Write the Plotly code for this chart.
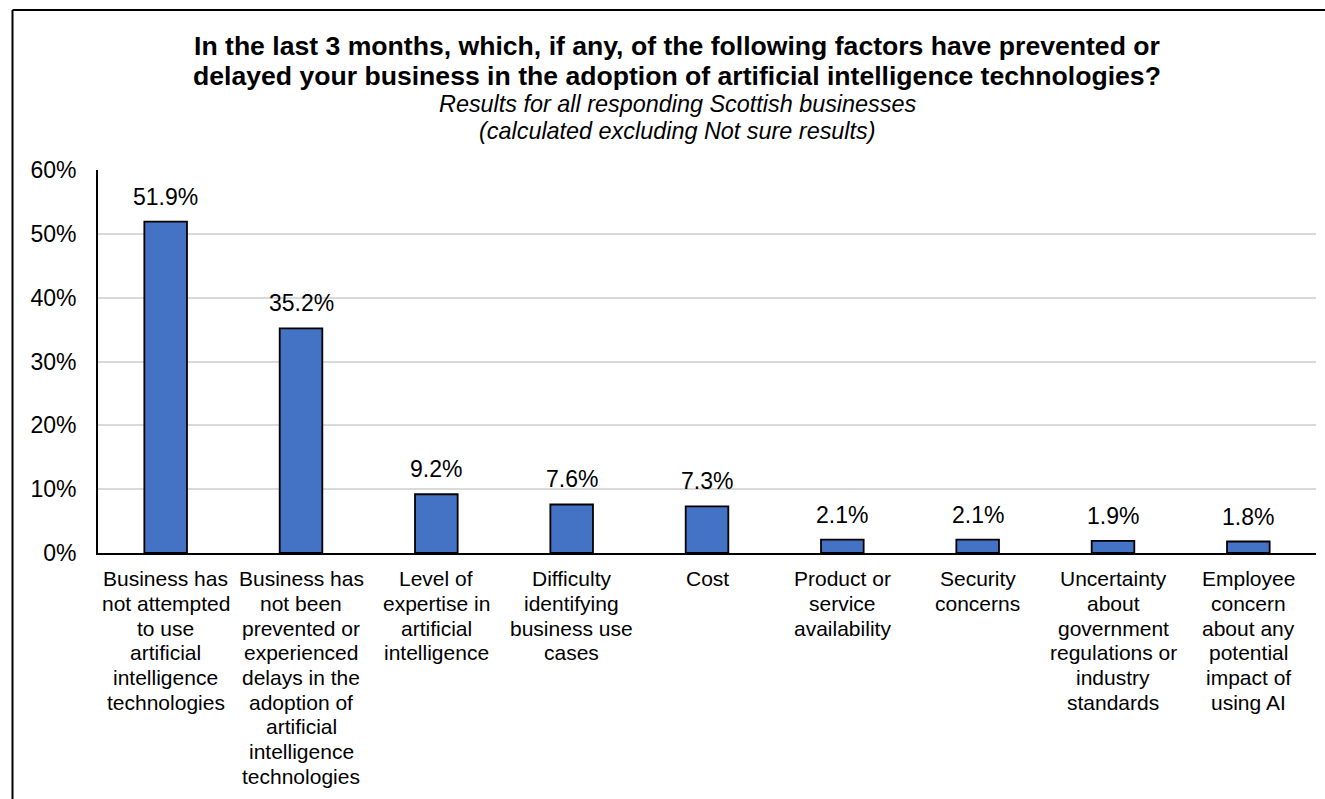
import plotly.graph_objects as go

# Survey results (percent of responding businesses)
categories = [
    "Business has not attempted to use artificial intelligence technologies",
    "Business has not been prevented or experienced delays in the adoption of artificial intelligence technologies",
    "Level of expertise in artificial intelligence",
    "Difficulty identifying business use cases",
    "Cost",
    "Product or service availability",
    "Security concerns",
    "Uncertainty about government regulations or industry standards",
    "Employee concern about any potential impact of using AI",
]
values = [51.9, 35.2, 9.2, 7.6, 7.3, 2.1, 2.1, 1.9, 1.8]

# Wrapped category labels, one list of lines per category
label_lines = [
    ["Business has", "not attempted", "to use", "artificial", "intelligence", "technologies"],
    ["Business has", "not been", "prevented or", "experienced", "delays in the", "adoption of",
     "artificial", "intelligence", "technologies"],
    ["Level of", "expertise in", "artificial", "intelligence"],
    ["Difficulty", "identifying", "business use", "cases"],
    ["Cost"],
    ["Product or", "service", "availability"],
    ["Security", "concerns"],
    ["Uncertainty", "about", "government", "regulations or", "industry", "standards"],
    ["Employee", "concern", "about any", "potential", "impact of", "using AI"],
]
y_ticks = [0, 10, 20, 30, 40, 50, 60]

title_lines = [
    "In the last 3 months, which, if any, of the following factors have prevented or",
    "delayed your business in the adoption of artificial intelligence technologies?",
]
subtitle_lines = [
    "Results for all responding Scottish businesses",
    "(calculated excluding Not sure results)",
]

FONT = "Arial, Liberation Sans, sans-serif"
W, H = 1325, 799
ML, MR, MT, MB = 98, 9, 170, 246
PW, PH = W - ML - MR, H - MT - MB


def px_to_paper_x(px):
    return (px - ML) / PW


def px_to_paper_y(py):
    return (H - MB - py) / PH


fig = go.Figure(
    go.Bar(
        x=categories,
        y=values,
        marker=dict(color="#4472C4", line=dict(color="#000000", width=1.8)),
        hoverinfo="skip",
    )
)

annotations = []

# Value labels above each bar
for cat, v in zip(categories, values):
    annotations.append(dict(
        x=cat, y=v, xref="x", yref="y", text=f"{v:.1f}%", showarrow=False,
        yanchor="middle", xanchor="center", yshift=25,
        font=dict(family=FONT, size=23, color="#000000"),
    ))

# Category labels under the axis
for cat, lines in zip(categories, label_lines):
    for k, line in enumerate(lines):
        annotations.append(dict(
            x=cat, y=0, xref="x", yref="paper", text=line, showarrow=False,
            yanchor="middle", xanchor="center", yshift=-25.6 - 24.7 * k,
            font=dict(family=FONT, size=21, color="#000000"),
        ))

# Title and subtitle
title_cx = px_to_paper_x(677)
for line, cy in zip(title_lines, [46, 76]):
    annotations.append(dict(
        x=title_cx, y=px_to_paper_y(cy), xref="paper", yref="paper",
        text=f"<b>{line}</b>", showarrow=False, xanchor="center", yanchor="middle",
        font=dict(family=FONT, size=26.6, color="#000000"),
    ))
for line, cy in zip(subtitle_lines, [104, 131]):
    annotations.append(dict(
        x=title_cx, y=px_to_paper_y(cy), xref="paper", yref="paper",
        text=f"<i>{line}</i>", showarrow=False, xanchor="center", yanchor="middle",
        font=dict(family=FONT, size=23.4, color="#000000"),
    ))

# Chart frame (left and top edges visible)
shapes = [
    dict(type="line", xref="paper", yref="paper",
         x0=px_to_paper_x(12.5), x1=px_to_paper_x(12.5),
         y0=px_to_paper_y(10), y1=px_to_paper_y(H + 5),
         line=dict(color="#000000", width=2)),
    dict(type="line", xref="paper", yref="paper",
         x0=px_to_paper_x(12.5), x1=px_to_paper_x(W + 5),
         y0=px_to_paper_y(10), y1=px_to_paper_y(10),
         line=dict(color="#000000", width=2)),
]

fig.update_layout(
    width=W, height=H,
    margin=dict(l=ML, r=MR, t=MT, b=MB, pad=0),
    paper_bgcolor="#FFFFFF", plot_bgcolor="#FFFFFF",
    bargap=0.685,
    showlegend=False,
    annotations=annotations,
    shapes=shapes,
    font=dict(family=FONT, color="#000000"),
)

fig.update_xaxes(
    type="category", showticklabels=False, showline=True,
    linecolor="#000000", linewidth=1.8, showgrid=False, ticks="",
    zeroline=False,
)
fig.update_yaxes(
    range=[0, 60], tickvals=y_ticks, ticktext=[f"{t}%" for t in y_ticks],
    showline=True, linecolor="#000000", linewidth=1.8,
    showgrid=True, gridcolor="#D9D9D9", gridwidth=1.5,
    zeroline=False, ticks="outside", ticklen=0, ticklabelstandoff=15,
    tickfont=dict(family=FONT, size=23, color="#000000"),
)

fig.write_html("out.html")
